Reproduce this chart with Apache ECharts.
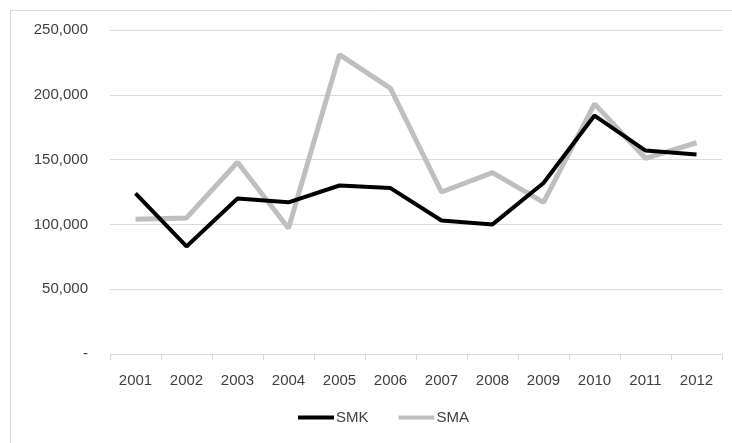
<!DOCTYPE html>
<html><head><meta charset="utf-8">
<script src="https://cdn.jsdelivr.net/npm/echarts@6/dist/echarts.min.js"></script>
<style>html,body{margin:0;padding:0;background:#fff}#c{width:732px;height:443px}</style>
</head><body><div id="c"></div>
<script>
const years = ['2001','2002','2003','2004','2005','2006','2007','2008','2009','2010','2011','2012'];
const smk = [124000, 83000, 120000, 117000, 130000, 128000, 103000, 100000, 132000, 184000, 157000, 154000];
const sma = [104000, 105000, 148000, 97000, 231000, 205000, 125000, 140000, 117000, 193000, 151000, 163000];

const font = 'Liberation Sans';
const chart = echarts.init(document.getElementById('c'));
chart.setOption({
  animation: false,
  graphic: [{type:'rect', shape:{x:10.5,y:10.5,width:740,height:460}, style:{fill:'none', stroke:'#d9d9d9', lineWidth:1}, silent:true}],
  grid: {left:110, right:10, top:30, bottom:89},
  legend: {
    bottom: 13, left: 293,
    itemWidth: 36, itemHeight: 4, itemGap: 30,
    icon: 'rect',
    textStyle: {fontFamily: font, fontSize: 15, color:'#404040', padding:[0,0,0,-3]},
    data: ['SMK','SMA']
  },
  xAxis: {
    type:'category', data: years, boundaryGap:true,
    axisLine:{lineStyle:{color:'#d9d9d9'}},
    axisTick:{show:true, length:6, lineStyle:{color:'#d9d9d9'}},
    axisLabel:{fontFamily:font, fontSize:15, color:'#404040', margin:19}
  },
  yAxis: {
    type:'value', min:0, max:250000, interval:50000,
    axisLine:{show:false}, axisTick:{show:false},
    splitLine:{lineStyle:{color:'#d9d9d9'}},
    axisLabel:{fontFamily:font, fontSize:15, color:'#404040', margin:22,
      formatter: v => v === 0 ? '-' : v.toLocaleString('en-US')}
  },
  series: [
    {name:'SMA', type:'line', data:sma, symbol:'none', z:2, lineStyle:{color:'#bfbfbf', width:5}, itemStyle:{color:'#bfbfbf'}},
    {name:'SMK', type:'line', data:smk, symbol:'none', z:3, lineStyle:{color:'#000000', width:4}, itemStyle:{color:'#000000'}}
  ]
});
</script></body></html>
